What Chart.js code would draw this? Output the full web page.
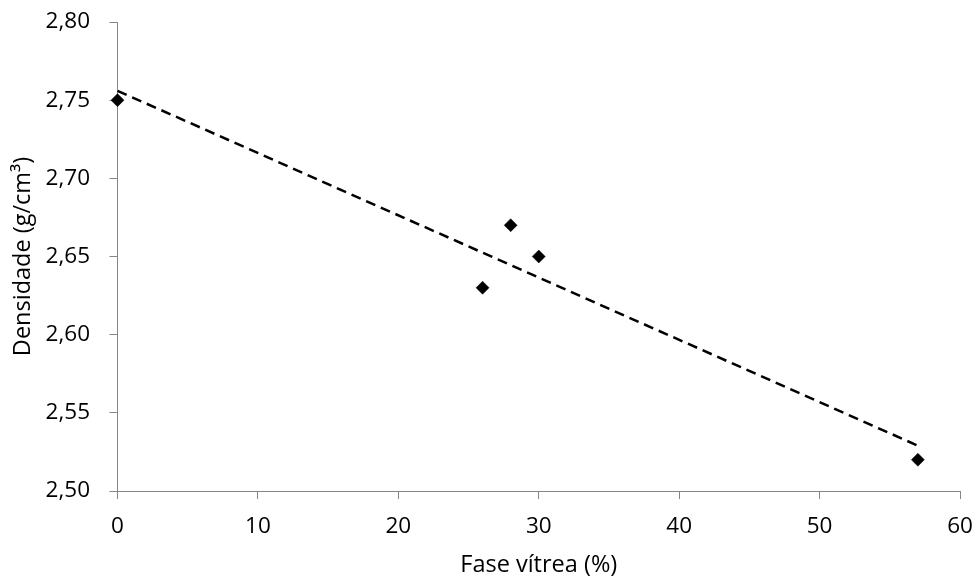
<!DOCTYPE html>
<html>
<head>
<meta charset="utf-8">
<script src="https://cdn.jsdelivr.net/npm/chart.js@4.4.0/dist/chart.umd.min.js"></script>
<style>
  html, body { margin: 0; padding: 0; background: #ffffff; }
  #wrap { width: 977px; height: 580px; }
</style>
</head>
<body>
<div id="wrap"><canvas id="c" width="977" height="580"></canvas></div>
<script>
// Data
const faseVitrea = [0, 26, 28, 30, 57];          // x (%)
const densidade  = [2.75, 2.63, 2.67, 2.65, 2.52]; // y (g/cm3)
const trendX = [0, 57];
const trendY = [2.756, 2.529];
const xTicks = [0, 10, 20, 30, 40, 50, 60];
const yTicks = [2.50, 2.55, 2.60, 2.65, 2.70, 2.75, 2.80];
const xTitle = 'Fase vítrea (%)';
const yTitle = 'Densidade (g/cm³)';

const axisColor = '#868686';
const FONT = "'Open Sans', 'DejaVu Sans', sans-serif";

const points = faseVitrea.map((x, i) => ({ x: x, y: densidade[i] }));
const trend = trendX.map((x, i) => ({ x: x, y: trendY[i] }));

new Chart(document.getElementById('c'), {
  type: 'scatter',
  data: {
    datasets: [
      {
        label: 'Densidade',
        data: points,
        pointStyle: 'rectRot',
        pointRadius: 6.5,
        pointHoverRadius: 6.5,
        backgroundColor: '#000000',
        borderColor: '#000000',
        borderWidth: 0.5,
        clip: false,
        order: 0
      },
      {
        label: 'Tendência',
        data: trend,
        showLine: true,
        pointRadius: 0,
        borderColor: '#000000',
        borderWidth: 2.5,
        borderDash: [10, 6],
        fill: false,
        clip: false,
        order: 1
      }
    ]
  },
  options: {
    responsive: false,
    animation: false,
    layout: { autoPadding: false, padding: { left: 0, top: 22, right: 17, bottom: 0 } },
    plugins: {
      legend: { display: false },
      tooltip: { enabled: false }
    },
    scales: {
      x: {
        type: 'linear',
        min: xTicks[0],
        max: xTicks[xTicks.length - 1],
        afterBuildTicks: (s) => { s.ticks = xTicks.map(v => ({ value: v })); },
        afterFit: (s) => { s.height = 89; s.paddingLeft = 0; s.paddingRight = 0; },
        border: { display: true, color: axisColor, width: 1 },
        grid: { display: true, drawOnChartArea: false, drawTicks: true, tickLength: 8, color: axisColor, lineWidth: 1 },
        ticks: {
          padding: 14.5,
          color: '#000000',
          font: { family: FONT, size: 22.5 },
          callback: (v) => String(v)
        },
        title: {
          display: true,
          text: xTitle,
          color: '#000000',
          font: { family: FONT, size: 23.5 },
          padding: { top: 0, bottom: 1 }
        }
      },
      y: {
        type: 'linear',
        min: yTicks[0],
        max: yTicks[yTicks.length - 1],
        afterBuildTicks: (s) => { s.ticks = yTicks.map(v => ({ value: v })); },
        afterFit: (s) => { s.width = 117.5; s.paddingTop = 0; s.paddingBottom = 0; },
        border: { display: true, color: axisColor, width: 1 },
        grid: { display: true, drawOnChartArea: false, drawTicks: true, tickLength: 8, color: axisColor, lineWidth: 1 },
        ticks: {
          padding: 19.5,
          color: '#000000',
          font: { family: FONT, size: 22.5 },
          callback: (v) => Number(v).toFixed(2).replace('.', ',')
        },
        title: {
          display: true,
          text: yTitle,
          color: '#000000',
          font: { family: FONT, size: 23.5 },
          padding: { top: 9, bottom: 0 }
        }
      }
    }
  }
});
</script>
</body>
</html>
